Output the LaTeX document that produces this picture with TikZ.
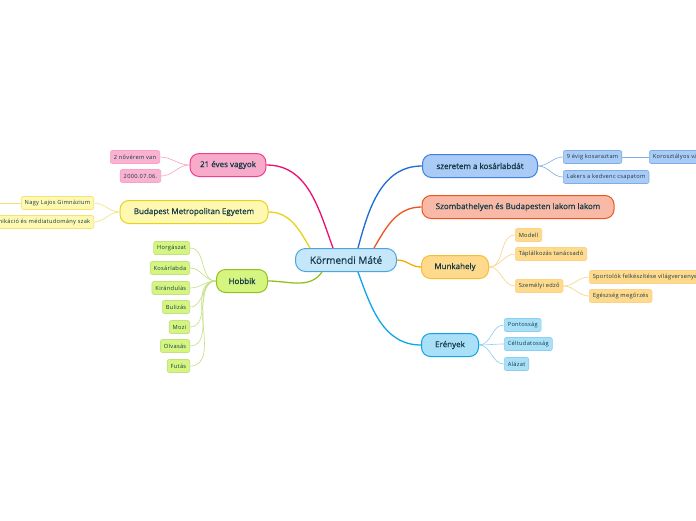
\documentclass[tikz,border=0pt]{standalone}
\usepackage{fontspec}
\setmainfont{Open Sans}
\newfontfamily\heavyfont[FakeBold=0.6]{Open Sans}
\newfontfamily\leaffont[LetterSpace=5]{Open Sans}
\usetikzlibrary{positioning}

\definecolor{txt}{HTML}{123A47}
\definecolor{rootfill}{HTML}{C6E7FA}
\definecolor{rootdraw}{HTML}{4AA6DE}
\definecolor{pinkline}{HTML}{EE0E72}
\definecolor{pinkfill}{HTML}{F8AACB}
\definecolor{pinksub}{HTML}{F5A3C6}
\definecolor{yelline}{HTML}{E9D21C}
\definecolor{yelfill}{HTML}{FFF8B0}
\definecolor{yelsub}{HTML}{F3E27A}
\definecolor{grnline}{HTML}{92C11B}
\definecolor{grnfill}{HTML}{D5F580}
\definecolor{grnsub}{HTML}{C2E084}
\definecolor{bluline}{HTML}{1C6BD6}
\definecolor{blufill}{HTML}{AACBF6}
\definecolor{blusub}{HTML}{7EAEE8}
\definecolor{redline}{HTML}{EE5420}
\definecolor{redfill}{HTML}{F8BAA7}
\definecolor{orgline}{HTML}{F5AD00}
\definecolor{orgfill}{HTML}{FFD98C}
\definecolor{orgsub}{HTML}{F8D389}
\definecolor{cyaline}{HTML}{0EA6EA}
\definecolor{cyafill}{HTML}{A9DFF7}
\definecolor{cyasub}{HTML}{8ACFF0}

\begin{document}
\begin{tikzpicture}[
  x=1pt,y=-1pt,
  root/.style={draw=rootdraw, fill=rootfill, line width=1pt, rounded corners=10pt,
    minimum height=23pt, minimum width=101pt, text=txt,
    font=\heavyfont\fontsize{10}{12}\selectfont},
  branch/.style={line width=1pt, rounded corners=9pt, minimum height=23pt,
    inner xsep=10pt, text=txt, font=\heavyfont\fontsize{8}{10}\selectfont},
  leaf/.style={line width=0.6pt, rounded corners=2pt, minimum height=13pt,
    inner xsep=3.5pt, inner ysep=1pt, text=txt,
    font=\leaffont\fontsize{5.7}{7}\selectfont},
  mainline/.style={line width=1.3pt},
  subline/.style={line width=0.6pt}
]
\useasboundingbox[fill=white] (0,0) rectangle (696,520);

% root
\node[root] (root) at (346,260) {Körmendi Máté};

% left side
\node[branch, fill=pinkfill, draw=pinkline!80] (age) at (228,165) {21 éves vagyok};
\node[leaf, fill=pinkfill!90, draw=pinksub, anchor=east] (sisters) at (160,157) {2 nővérem van};
\node[leaf, fill=pinkfill!90, draw=pinksub, anchor=east] (birth) at (161,176) {2000.07.06.};

\node[branch, fill=yelfill, draw=yelline, minimum width=148pt] (uni) at (194,212) {Budapest Metropolitan Egyetem};
\node[leaf, fill=yelfill, draw=yelsub, anchor=east] (gimi) at (94,203) {Nagy Lajos Gimnázium};
\node[leaf, fill=yelfill, draw=yelsub, anchor=east] (szak) at (94,222) {Kommunikáció és médiatudomány szak};
\coordinate (gimiend) at (-20,203);

\node[branch, fill=grnfill, draw=grnline, minimum width=51pt] (hob) at (242,281) {Hobbik};
\foreach \name/\txt/\y in {horg/Horgászat/248, kosar/Kosárlabda/268,
    kirand/Kirándulás/288, buli/Bulizás/307, mozi/Mozi/327,
    olvas/Olvasás/346, futas/Futás/366}{
  \node[leaf, fill=grnfill, draw=grnsub, anchor=east] (\name) at (190,\y) {\txt};
  \draw[subline, grnsub] (hob.west) to[out=180,in=0] (\name.east);
}

% right side
\node[branch, fill=blufill, draw=bluline!85, minimum width=115pt] (ball) at (480,166) {szeretem a kosárlabdát};
\node[leaf, fill=blufill, draw=blusub, anchor=west] (years) at (563,157) {9 évig kosaraztam};
\node[leaf, fill=blufill, draw=blusub, anchor=west] (lakers) at (563,177) {Lakers a kedvenc csapatom};
\node[leaf, fill=blufill, draw=blusub, anchor=west] (valog) at (649,157) {Korosztályos válogatott};

\node[branch, fill=redfill, draw=redline, minimum width=192pt] (live) at (518,207) {Szombathelyen és Budapesten lakom lakom};

\node[branch, fill=orgfill, draw=orgline!80, minimum width=67pt] (work) at (455,267) {Munkahely};
\node[leaf, fill=orgfill, draw=orgsub, anchor=west] (modell) at (515,235) {Modell};
\node[leaf, fill=orgfill, draw=orgsub, anchor=west] (tapl) at (515,254) {Táplálkozás tanácsadó};
\node[leaf, fill=orgfill, draw=orgsub, anchor=west] (edzo) at (515,286) {Személyi edző};
\node[leaf, fill=orgfill, draw=orgsub, anchor=west] (sport) at (589,277) {Sportolók felkészítése világversenyekre};
\node[leaf, fill=orgfill, draw=orgsub, anchor=west] (egesz) at (589,296) {Egészség megőrzés};

\node[branch, fill=cyafill, draw=cyaline, minimum width=57pt] (ereny) at (450,345) {Erények};
\node[leaf, fill=cyafill, draw=cyasub, anchor=west] (pont) at (504,325) {Pontosság};
\node[leaf, fill=cyafill, draw=cyasub, anchor=west] (cel) at (504,344) {Céltudatosság};
\node[leaf, fill=cyafill, draw=cyasub, anchor=west] (alazat) at (504,364) {Alázat};

% main branches
\draw[mainline, pinkline] ([xshift=-13pt]root.north) to[out=110,in=0] (age.east);
\draw[mainline, yelline] ([xshift=-36pt]root.north) to[out=120,in=0] (uni.east);
\draw[mainline, grnline] ([xshift=-24pt]root.south) to[out=235,in=0] (hob.east);
\draw[mainline, bluline] ([xshift=12pt]root.north) to[out=75,in=180] (ball.west);
\draw[mainline, redline] ([xshift=28pt]root.north) to[out=60,in=180] (live.west);
\draw[mainline, orgline] (root.east) to[out=0,in=180] (work.west);
\draw[mainline, cyaline] ([xshift=12pt]root.south) to[out=-70,in=180] (ereny.west);

% sub branches
\draw[subline, pinksub] (age.west) to[out=180,in=0] (sisters.east);
\draw[subline, pinksub] (age.west) to[out=180,in=0] (birth.east);
\draw[subline, yelsub] (uni.west) to[out=180,in=0] (gimi.east);
\draw[subline, yelsub] (uni.west) to[out=180,in=0] (szak.east);
\draw[subline, yelsub] (gimi.west) -- (gimiend);
\draw[subline, blusub] (ball.east) to[out=0,in=180] (years.west);
\draw[subline, blusub] (ball.east) to[out=0,in=180] (lakers.west);
\draw[subline, blusub] (years.east) -- (valog.west);
\draw[subline, orgsub] (work.east) to[out=0,in=180] (modell.west);
\draw[subline, orgsub] (work.east) to[out=0,in=180] (tapl.west);
\draw[subline, orgsub] (work.east) to[out=0,in=180] (edzo.west);
\draw[subline, orgsub] (edzo.east) to[out=0,in=180] (sport.west);
\draw[subline, orgsub] (edzo.east) to[out=0,in=180] (egesz.west);
\draw[subline, cyasub] (ereny.east) to[out=0,in=180] (pont.west);
\draw[subline, cyasub] (ereny.east) to[out=0,in=180] (cel.west);
\draw[subline, cyasub] (ereny.east) to[out=0,in=180] (alazat.west);
\end{tikzpicture}
\end{document}
